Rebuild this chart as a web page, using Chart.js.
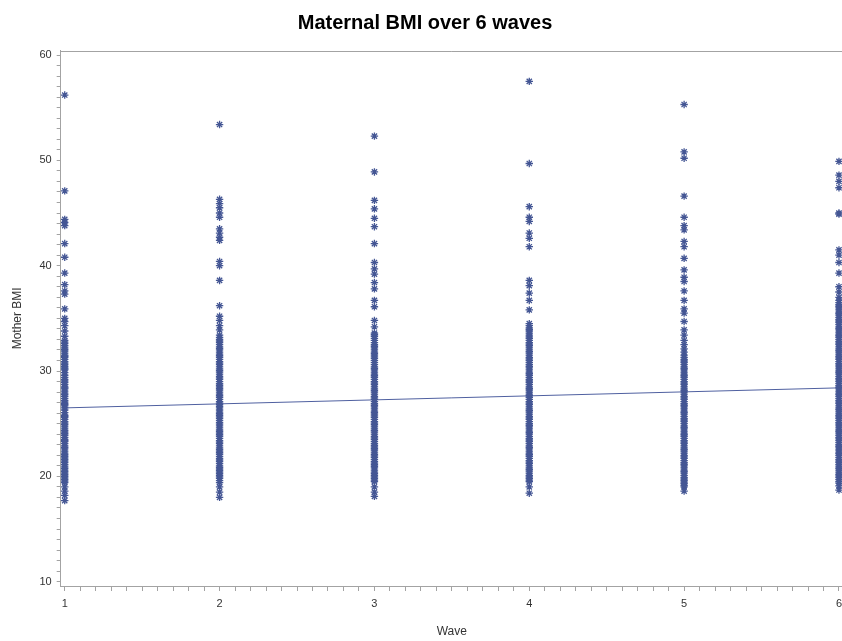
<!DOCTYPE html>
<html><head><meta charset="utf-8">
<script src="https://cdn.jsdelivr.net/npm/chart.js@4/dist/chart.umd.min.js"></script>
<style>
html,body{margin:0;padding:0;background:#fff;overflow:hidden;width:842px;height:641px}
#wrap{width:850px;height:641px}
</style></head><body>
<div id="wrap"><canvas id="c" width="850" height="641"></canvas></div>
<script>
// ---- data ----
const waves = [1, 2, 3, 4, 5, 6];
const wave1 = [56.2, 47.1, 44.4, 44.1, 43.8, 42.1, 40.8, 39.3, 38.2, 37.6, 37.3, 35.9, 35.0, 34.7, 34.3, 33.8, 33.3, 32.9, 32.6, 32.2, 31.9, 31.5, 31.3, 30.9, 30.6, 30.3, 30.1, 29.6, 29.2, 28.9, 28.5, 28.3, 27.9, 27.6, 27.2, 26.9, 26.7, 26.3, 25.8, 25.6, 25.2, 24.9, 24.5, 24.2, 23.9, 23.5, 23.3, 22.9, 22.6, 22.2, 21.9, 21.6, 21.3, 20.9, 20.6, 20.3, 20.0, 19.7, 19.4, 19.0, 18.6, 18.2, 17.7,
  32.75, 32.4, 32.05, 31.7, 31.4, 31.1, 30.75, 30.45, 30.2, 29.85, 29.4, 29.05, 28.7, 28.4, 28.1, 27.75, 27.4, 27.05, 26.8, 26.5, 26.05, 25.7, 25.4, 25.05, 24.7, 24.35, 24.05, 23.7, 23.4, 23.1, 22.75, 22.4, 22.05, 21.75, 21.45, 21.1, 20.75, 20.45, 20.15, 19.85, 19.55];
const wave2 = [53.4, 46.3, 45.9, 45.5, 45.0, 44.6, 43.5, 43.1, 42.7, 42.4, 40.4, 40.0, 38.6, 36.2, 35.2, 34.8, 34.3, 33.9, 33.4, 33.0, 32.7, 32.3, 32.0, 31.6, 31.3, 30.9, 30.6, 30.2, 29.9, 29.5, 29.2, 28.8, 28.5, 28.2, 27.8, 27.5, 27.1, 26.8, 26.5, 26.1, 25.8, 25.5, 25.1, 24.8, 24.4, 24.1, 23.8, 23.4, 23.1, 22.7, 22.4, 22.1, 21.7, 21.4, 21.0, 20.7, 20.4, 20.1, 19.8, 19.4, 19.0, 18.5, 18.0,
  33.2, 32.85, 32.5, 32.15, 31.8, 31.45, 31.1, 30.75, 30.4, 30.05, 29.7, 29.35, 29.0, 28.65, 28.35, 28.0, 27.65, 27.3, 26.95, 26.65, 26.3, 25.95, 25.65, 25.3, 24.95, 24.6, 24.25, 23.95, 23.6, 23.25, 22.9, 22.55, 22.25, 21.9, 21.55, 21.2, 20.85, 20.55, 20.25, 19.95, 19.6];
const wave3 = [52.3, 48.9, 46.2, 45.4, 44.5, 43.7, 42.1, 40.3, 39.7, 39.2, 38.4, 37.8, 36.7, 36.1, 34.8, 34.2, 33.6, 33.3, 32.9, 32.5, 32.2, 31.8, 31.5, 31.2, 30.8, 30.4, 30.1, 29.7, 29.4, 29.0, 28.7, 28.3, 28.0, 27.6, 27.3, 26.9, 26.6, 26.2, 25.9, 25.6, 25.2, 24.9, 24.5, 24.2, 23.8, 23.5, 23.1, 22.8, 22.5, 22.1, 21.8, 21.4, 21.1, 20.8, 20.4, 20.1, 19.8, 19.5, 19.0, 18.5, 18.1,
  33.45, 33.1, 32.7, 32.35, 32.0, 31.65, 31.35, 31.0, 30.6, 30.25, 29.9, 29.55, 29.2, 28.85, 28.5, 28.15, 27.8, 27.45, 27.1, 26.75, 26.4, 26.05, 25.75, 25.4, 25.05, 24.7, 24.35, 24.0, 23.65, 23.3, 22.95, 22.65, 22.3, 21.95, 21.6, 21.25, 20.95, 20.6, 20.25, 19.95, 19.65];
const wave4 = [57.5, 49.7, 45.6, 44.6, 44.2, 43.1, 42.6, 41.8, 38.6, 38.1, 37.4, 36.7, 35.8, 34.5, 34.1, 33.8, 33.4, 33.1, 32.7, 32.4, 32.0, 31.7, 31.3, 31.0, 30.6, 30.3, 29.9, 29.6, 29.2, 28.9, 28.5, 28.2, 27.8, 27.5, 27.1, 26.8, 26.4, 26.1, 25.7, 25.4, 25.0, 24.7, 24.3, 24.0, 23.6, 23.3, 22.9, 22.6, 22.2, 21.9, 21.5, 21.2, 20.8, 20.5, 20.1, 19.8, 19.5, 19.0, 18.4,
  34.3, 33.95, 33.6, 33.25, 32.9, 32.55, 32.2, 31.85, 31.5, 31.15, 30.8, 30.45, 30.1, 29.75, 29.4, 29.05, 28.7, 28.35, 28.0, 27.65, 27.3, 26.95, 26.6, 26.25, 25.9, 25.55, 25.2, 24.85, 24.5, 24.15, 23.8, 23.45, 23.1, 22.75, 22.4, 22.05, 21.7, 21.35, 21.0, 20.65, 20.3, 19.95, 19.65];
const wave5 = [55.3, 50.8, 50.2, 46.6, 44.6, 43.8, 43.4, 42.3, 41.8, 40.7, 39.6, 38.9, 38.5, 37.6, 36.7, 35.9, 35.5, 34.7, 33.9, 33.4, 32.9, 32.5, 32.1, 31.8, 31.5, 31.1, 30.8, 30.4, 30.1, 29.7, 29.4, 29.0, 28.7, 28.3, 28.0, 27.6, 27.3, 26.9, 26.6, 26.2, 25.9, 25.5, 25.2, 24.8, 24.5, 24.1, 23.8, 23.4, 23.1, 22.7, 22.4, 22.0, 21.7, 21.3, 21.0, 20.6, 20.3, 19.9, 19.6, 19.3, 19.0, 18.6,
  31.3, 30.95, 30.6, 30.25, 29.9, 29.55, 29.2, 28.85, 28.5, 28.15, 27.8, 27.45, 27.1, 26.75, 26.4, 26.05, 25.7, 25.35, 25.0, 24.65, 24.3, 23.95, 23.6, 23.25, 22.9, 22.55, 22.2, 21.85, 21.5, 21.15, 20.8, 20.45, 20.1, 19.75, 19.45, 19.15];
const wave6 = [49.9, 48.6, 48.0, 47.4, 45.0, 44.9, 41.5, 41.0, 40.3, 39.3, 38.0, 37.5, 37.0, 36.7, 36.3, 36.0, 35.6, 35.3, 34.9, 34.6, 34.2, 33.9, 33.5, 33.2, 32.8, 32.5, 32.1, 31.8, 31.4, 31.1, 30.7, 30.4, 30.0, 29.7, 29.3, 29.0, 28.6, 28.3, 27.9, 27.6, 27.2, 26.9, 26.5, 26.2, 25.8, 25.5, 25.1, 24.8, 24.4, 24.1, 23.7, 23.4, 23.0, 22.7, 22.3, 22.0, 21.6, 21.3, 20.9, 20.6, 20.2, 19.9, 19.5, 19.1, 18.7,
  36.5, 36.15, 35.8, 35.45, 35.1, 34.75, 34.4, 34.05, 33.7, 33.35, 33.0, 32.65, 32.3, 31.95, 31.6, 31.25, 30.9, 30.55, 30.2, 29.85, 29.5, 29.15, 28.8, 28.45, 28.1, 27.75, 27.4, 27.05, 26.7, 26.35, 26.0, 25.65, 25.3, 24.95, 24.6, 24.25, 23.9, 23.55, 23.2, 22.85, 22.5, 22.15, 21.8, 21.45, 21.1, 20.75, 20.4, 20.05, 19.7, 19.35];
const fitX = [1, 6];
const fitY = [26.5, 28.4];
const xTickLabels = ['1', '2', '3', '4', '5', '6'];
const yTickLabels = ['10', '20', '30', '40', '50', '60'];

// ---- build library data ----
const waveValues = [wave1, wave2, wave3, wave4, wave5, wave6];
const scatterPts = [];
waveValues.forEach((arr, i) => arr.forEach(v => scatterPts.push({x: waves[i], y: v})));
const linePts = fitX.map((x, i) => ({x: x, y: fitY[i]}));

const AXIS = '#a3a3a3';
const MARK = '#445694';
const FONT = 'Liberation Sans, Arial, sans-serif';

const framePlugin = {
  id: 'frame',
  beforeDatasetsDraw(chart) {
    const {ctx, chartArea: a} = chart;
    ctx.save();
    ctx.strokeStyle = AXIS;
    ctx.lineWidth = 1;
    ctx.beginPath();
    ctx.moveTo(a.left, Math.round(a.top) + 0.5);
    ctx.lineTo(a.right, Math.round(a.top) + 0.5);
    ctx.moveTo(Math.round(a.right) - 0.5, a.top);
    ctx.lineTo(Math.round(a.right) - 0.5, a.bottom);
    ctx.stroke();
    ctx.restore();
  }
};

new Chart(document.getElementById('c'), {
  data: {
    datasets: [
      {
        type: 'scatter',
        data: scatterPts,
        pointStyle: 'star',
        pointRadius: 3.7,
        pointBorderWidth: 1.3,
        borderColor: MARK,
        backgroundColor: MARK,
        order: 0
      },
      {
        type: 'line',
        data: linePts,
        borderColor: '#4f60a0',
        borderWidth: 1,
        pointRadius: 0,
        fill: false,
        order: 1
      }
    ]
  },
  options: {
    responsive: false,
    devicePixelRatio: 1,
    animation: false,
    layout: {padding: 0},
    plugins: {
      legend: {display: false},
      tooltip: {enabled: false},
      title: {
        display: true,
        text: 'Maternal BMI over 6 waves',
        color: '#000',
        font: {family: FONT, size: 20, weight: 'bold', lineHeight: 1.2},
        padding: {top: 11, bottom: 15.7}
      }
    },
    scales: {
      x: {
        type: 'linear',
        min: 0.974,
        max: 6.026,
        afterBuildTicks(s) {
          const t = [];
          for (let k = 10; k <= 60; k++) t.push({value: k / 10});
          s.ticks = t;
        },
        afterFit(s) { s.height = 55; s.paddingRight = 7; s.paddingLeft = 0; },
        ticks: {
          autoSkip: false,
          maxRotation: 0,
          includeBounds: false,
          padding: 6,
          color: '#333',
          font: {family: FONT, size: 11},
          callback(v) {
            const r = Math.round(v);
            return Math.abs(v - r) < 1e-6 && xTickLabels.includes(String(r)) ? String(r) : '';
          }
        },
        grid: {drawOnChartArea: false, drawTicks: true, tickLength: 5, color: AXIS, tickColor: AXIS},
        border: {display: true, color: AXIS, width: 1},
        title: {
          display: true, text: 'Wave', color: '#333',
          font: {family: FONT, size: 12},
          padding: {top: 0, bottom: 2}
        }
      },
      y: {
        type: 'linear',
        min: 9.59,
        max: 60.41,
        afterBuildTicks(s) {
          const t = [];
          for (let k = 10; k <= 60; k++) t.push({value: k});
          s.ticks = t;
        },
        afterFit(s) { s.width = 60.7; },
        ticks: {
          autoSkip: false,
          includeBounds: false,
          padding: 5,
          color: '#333',
          font: {family: FONT, size: 11},
          callback(v) {
            return yTickLabels.includes(String(v)) ? String(v) : '';
          }
        },
        grid: {drawOnChartArea: false, drawTicks: true, tickLength: 4, color: AXIS, tickColor: AXIS},
        border: {display: true, color: AXIS, width: 1},
        title: {
          display: true, text: 'Mother BMI', color: '#333',
          font: {family: FONT, size: 12},
          padding: {top: 10, bottom: 0}
        }
      }
    }
  },
  plugins: [framePlugin]
});
</script>
</body></html>
